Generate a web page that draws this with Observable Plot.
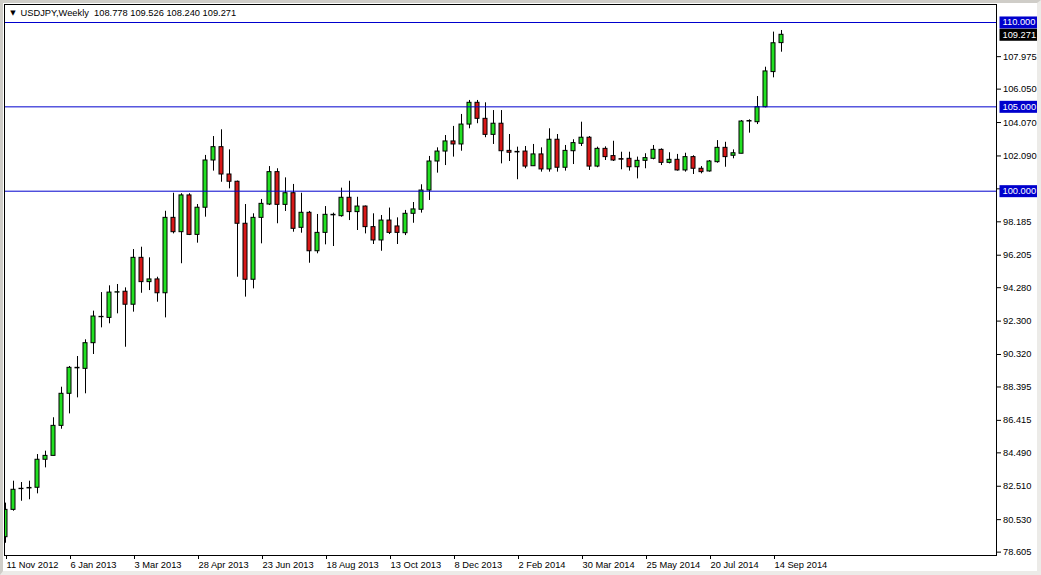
<!DOCTYPE html>
<html><head><meta charset="utf-8">
<script src="https://cdn.jsdelivr.net/npm/d3@7"></script>
<script src="https://cdn.jsdelivr.net/npm/@observablehq/plot@0.6"></script>
<style>
html,body{margin:0;padding:0;background:#fff;}
#chart{position:relative;width:1041px;height:575px;overflow:hidden;}
#chart svg{display:block;}
#edge{position:absolute;left:0;top:0;width:1041px;height:575px;box-sizing:border-box;border-left:3px solid #cfcdc8;border-top:3px solid #cfcdc8;border-right:4px solid #ecebe8;border-bottom:4px solid #ecebe8;pointer-events:none;}
</style></head><body>
<div id="chart"><div id="edge"></div></div>
<script>
const symbol = "USDJPY";
const period = "Weekly";

// weekly OHLC, first bar = week of 11 Nov 2012
const open = [79.49,81.11,82.36,82.38,82.42,84.08,84.31,86.09,87.99,89.53,
  89.47,90.99,92.55,92.49,93.99,94.04,93.27,96.05,94.61,94.77,
  93.95,98.42,97.57,99.75,97.41,99.02,101.82,102.61,100.99,100.56,
  98.07,94.75,98.42,99.21,101.13,99.19,99.88,97.83,98.72,96.44,
  97.53,98.60,98.52,99.61,98.76,99.09,97.87,97.08,98.26,97.91,
  97.51,98.66,98.90,100.04,101.76,102.35,102.95,102.77,103.95,105.24,
  104.29,103.34,104.00,102.39,102.33,102.35,101.48,102.18,101.29,103.05,
  101.39,102.37,102.81,103.17,101.46,102.51,102.08,101.90,101.92,101.42,
  101.80,101.92,102.45,101.68,101.86,101.23,102.02,101.33,101.17,101.72,
  102.57,102.10,102.22,104.13,104.09,104.98,107.06,108.778];
const high = [81.51,82.81,82.73,82.81,84.39,84.59,86.57,88.38,89.61,90.20,
  91.19,92.89,93.99,94.39,94.47,94.27,96.54,96.68,96.05,94.90,
  98.81,99.88,99.85,99.85,99.21,102.12,103.24,103.64,102.45,100.60,
  99.21,98.66,99.51,101.46,101.33,100.79,100.40,99.88,98.80,98.62,
  99.09,98.70,100.18,100.59,99.64,99.12,98.66,98.56,99.00,98.42,
  98.86,99.33,100.38,102.06,102.57,103.30,103.84,104.55,105.38,105.38,
  105.24,104.78,104.78,103.36,102.61,102.65,102.77,102.57,103.70,103.36,
  102.71,103.05,104.09,103.24,102.61,102.63,102.96,102.31,102.31,102.02,
  102.22,102.71,102.51,102.28,102.18,102.25,102.10,101.46,101.82,103.00,
  102.90,102.45,104.19,104.23,105.61,107.35,109.43,109.526];
const low = [79.13,81.03,81.62,81.71,82.06,83.60,84.31,85.89,86.80,87.75,
  87.99,90.32,91.90,92.14,92.73,90.75,92.83,93.95,94.11,93.42,
  92.49,97.47,95.70,97.37,96.92,98.46,101.19,100.53,100.14,94.90,
  93.72,94.21,96.88,99.15,98.07,98.80,97.57,97.51,95.73,96.29,
  96.82,96.72,98.46,98.26,97.67,97.47,96.84,96.44,97.43,96.84,
  97.37,98.10,98.70,99.45,101.07,101.52,102.02,102.37,103.70,104.00,
  103.17,102.77,101.62,101.76,100.68,101.33,101.48,101.13,101.13,101.13,
  101.19,101.58,102.65,101.23,101.39,101.82,101.76,101.27,101.19,100.73,
  101.33,101.86,101.52,101.62,101.19,101.13,100.99,101.03,101.13,101.66,
  101.42,101.92,102.22,103.44,103.95,104.94,106.72,108.240];
const close = [81.11,82.30,82.34,82.41,84.08,84.31,86.09,87.99,89.53,89.50,
  90.99,92.57,92.53,93.99,94.01,93.27,96.05,94.61,94.77,93.95,
  98.42,97.57,99.75,97.41,99.02,101.82,102.61,100.99,100.56,98.07,
  94.75,98.42,99.25,101.13,99.19,99.88,97.77,98.72,96.44,97.53,
  98.60,98.57,99.61,98.76,99.09,97.87,97.08,98.26,97.53,97.53,
  98.66,98.92,100.04,101.76,102.35,102.95,102.77,103.95,105.24,104.29,
  103.34,104.00,102.37,102.28,102.30,101.46,102.18,101.29,103.05,101.39,
  102.39,102.85,103.17,101.46,102.51,102.02,101.82,101.87,101.42,101.80,
  101.96,102.45,101.68,101.86,101.23,102.02,101.33,101.13,101.76,102.57,
  102.02,102.25,104.13,104.16,104.98,107.10,108.77,109.271];

// time axis: a label every 8 bars
const tickIndex = [0,8,16,24,32,40,48,56,64,72,80,88,96];
const tickLabels = ["11 Nov 2012","6 Jan 2013","3 Mar 2013","28 Apr 2013","23 Jun 2013",
  "18 Aug 2013","13 Oct 2013","8 Dec 2013","2 Feb 2014","30 Mar 2014","25 May 2014",
  "20 Jul 2014","14 Sep 2014"];
// price axis
const priceTicks = [107.975,106.050,104.070,102.090,100.140,98.185,96.205,94.280,
  92.300,90.320,88.395,86.415,84.490,82.510,80.530,78.605];
const levels = [110, 105, 100];

const bars = open.map((o, i) => ({i, o, h: high[i], l: low[i], c: close[i], dir: close[i] >= o ? "up" : "down"}));
const last = bars[bars.length - 1];
const f3 = v => v.toFixed(3);
const header = `${symbol},${period}  ${f3(last.o)} ${f3(last.h)} ${f3(last.l)} ${f3(last.c)}`;
const font = "Liberation Sans, Arial, sans-serif";
const lineBlue = "#0000cd";

const svg = Plot.plot({
  width: 1041,
  height: 575,
  marginLeft: 4,
  marginRight: 45,
  marginTop: 4,
  marginBottom: 20,
  style: {fontFamily: font, fontSize: "9.3px", color: "black", background: "white", overflow: "visible"},
  x: {type: "linear", domain: [-0.125, 123.875]},
  y: {domain: [78.405, 111.067]},
  color: {domain: ["up", "down"], range: ["#22e022", "#d81818"]},
  marks: [
    Plot.ruleX(bars, {x: "i", y1: "l", y2: "h", stroke: "black", clip: true}),
    Plot.rect(bars, {x1: d => d.i - 0.5, x2: d => d.i + 0.5, y1: "o", y2: "c",
      insetLeft: 2, insetRight: 2, fill: "dir", stroke: "black", strokeWidth: 1, clip: true}),
    Plot.ruleY(levels, {stroke: lineBlue, strokeWidth: 1}),
    Plot.frame({stroke: "black"}),
    Plot.axisX(tickIndex, {anchor: "bottom", tickSize: 4, tickPadding: 2, textAnchor: "start", dx: 1,
      tickFormat: d => tickLabels[tickIndex.indexOf(d)], label: null, fontSize: "9.3px"}),
    Plot.axisY(priceTicks, {anchor: "right", tickSize: 4, tickPadding: 2.5,
      tickFormat: f3, label: null, fontSize: "9.3px"}),
    Plot.text(levels, {y: d => d, text: f3, frameAnchor: "right", textAnchor: "start", dx: 6,
      fill: "white", fontSize: "9.3px"}),
    Plot.text([last.c], {y: d => d, text: f3, frameAnchor: "right", textAnchor: "start", dx: 6,
      fill: "white", fontSize: "9.3px"}),
    Plot.text(["\u25BC"], {frameAnchor: "top-left", dx: 8.5, dy: 8.5, textAnchor: "middle", lineAnchor: "middle",
      fontFamily: "DejaVu Sans", fontSize: "7px", fill: "black"}),
    Plot.text([header], {frameAnchor: "top-left", dx: 16, dy: 8.5, textAnchor: "start", lineAnchor: "middle",
      fill: "black", fontSize: "9.3px"})
  ]
});
const chart = document.getElementById("chart");
chart.insertBefore(svg, chart.firstChild);

// coloured backgrounds behind the price labels on the price axis
const boxColor = new Map(levels.map(v => [f3(v), lineBlue]));
boxColor.set(f3(last.c), "#000000");
svg.querySelectorAll("text").forEach(t => {
  const color = boxColor.get(t.textContent.trim());
  if (!color) return;
  let b;
  try { b = t.getBBox(); } catch (e) { return; }
  const r = document.createElementNS("http://www.w3.org/2000/svg", "rect");
  r.setAttribute("x", b.x - 3);
  r.setAttribute("width", b.width + 5);
  r.setAttribute("y", b.y + b.height / 2 - 6);
  r.setAttribute("height", 12);
  r.setAttribute("fill", color);
  r.setAttribute("stroke", "none");
  const tr = t.getAttribute("transform");
  if (tr) r.setAttribute("transform", tr);
  t.parentNode.insertBefore(r, t);
});
</script>
</body></html>
